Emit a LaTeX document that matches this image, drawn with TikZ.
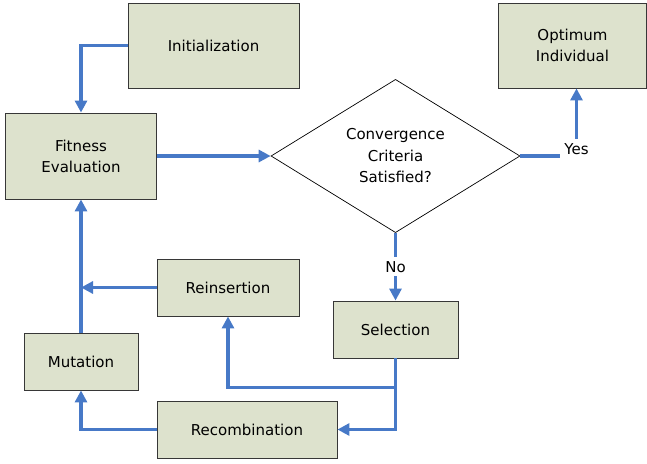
\documentclass[tikz,border=0pt]{standalone}
\usepackage{fontspec}
\setmainfont{DejaVu Sans}
\usetikzlibrary{shapes.geometric, arrows.meta, calc}
\definecolor{khaki_fill}{RGB}{221, 226, 205}
\definecolor{box_gray}{RGB}{55, 55, 55}
\definecolor{flow_blue}{RGB}{71, 121, 199}

\begin{document}
\begin{tikzpicture}[
    x=1pt, y=-1pt,
    block/.style={
        rectangle,
        draw=#1,
        fill=khaki_fill,
        line width=0.9pt,
        minimum height=57pt,
        align=center,
        inner sep=0pt,
        font=\fontsize{15}{21}\selectfont
    },
    decision/.style={
        diamond,
        draw=#1,
        fill=white,
        line width=0.7pt,
        minimum width=249pt,
        minimum height=150pt,
        inner sep=0pt,
        align=center,
        font=\fontsize{15}{21.5}\selectfont
    },
    flowtag/.style={
        fill=white,
        inner sep=4pt,
        font=\fontsize{15}{18}\selectfont
    },
    arrow/.style={
        -{Triangle[length=12pt, width=12pt]},
        line width=3.2pt,
        draw=#1
    }
]

\useasboundingbox (0,0) rectangle (647,463);

\node[block=box_gray, minimum width=171pt, minimum height=85pt] (init) at (213.5,45.5) {Initialization};
\node[block=box_gray, minimum width=151pt, minimum height=86pt] (fitness) at (81,156) {Fitness\\Evaluation};
\node[decision=black] (converge) at (395.5,156) {Convergence\\Criteria\\Satisfied?};
\node[block=box_gray, minimum width=148pt, minimum height=85pt] (optimum) at (572.5,45.5) {Optimum\\Individual};
\node[block=box_gray, minimum width=125pt] (selection) at (395.5,329.5) {Selection};
\node[block=box_gray, minimum width=142pt] (reinsertion) at (228,287.5) {Reinsertion};
\node[block=box_gray, minimum width=114pt] (mutation) at (81,361.5) {Mutation};
\node[block=box_gray, minimum width=180pt] (recombination) at (247,429.5) {Recombination};

\coordinate (split) at ($(selection.south)+(0,29)$);

\draw[arrow=flow_blue] (init.west) -| (fitness.north);
\draw[arrow=flow_blue] (fitness.east) -- (converge.west);
\draw[arrow=flow_blue] (converge.east) -| node[flowtag, pos=0.5, yshift=7pt] {Yes} ([xshift=4pt]optimum.south);
\draw[arrow=flow_blue] (converge.south) -- node[flowtag] {No} (selection.north);
\draw[arrow=flow_blue] (selection.south) |- (recombination.east);
\draw[arrow=flow_blue] (split) -| (reinsertion.south);
\draw[arrow=flow_blue] (reinsertion.west) -- (reinsertion.west -| fitness.south);
\draw[arrow=flow_blue] (recombination.west) -| (mutation.south);
\draw[arrow=flow_blue] (mutation.north) -- (fitness.south);

\end{tikzpicture}
\end{document}
